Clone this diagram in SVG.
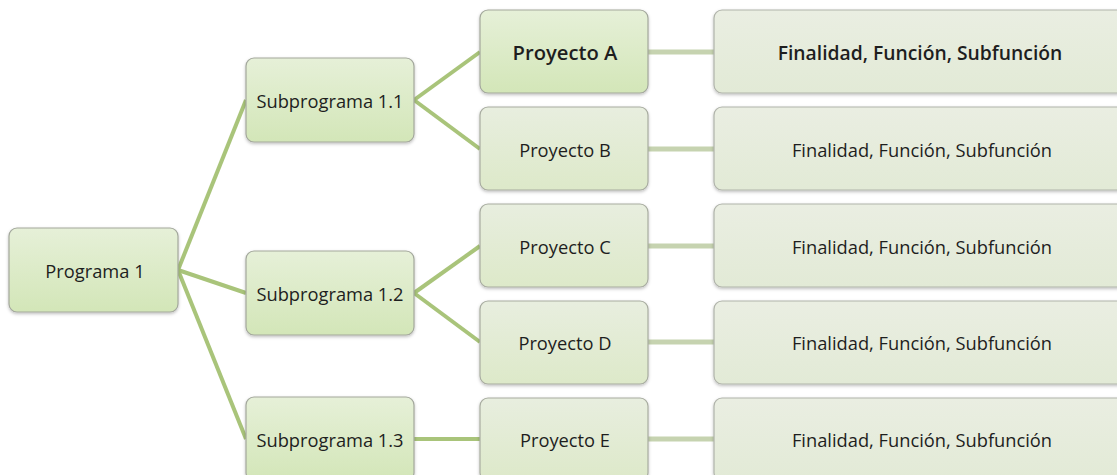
<svg xmlns="http://www.w3.org/2000/svg" width="1117" height="475" viewBox="0 0 1117 475">
<style>
.n1{fill:url(#g1);stroke:#a3a79c;stroke-width:1.2;filter:url(#sh)}
.n2{fill:url(#g2);stroke:#a8aca0;stroke-width:1.2;filter:url(#sh)}
.n3{fill:url(#g3);stroke:#b0b3aa;stroke-width:1.2;filter:url(#sh)}
.t{font-family:"Open Sans","Noto Sans",sans-serif;font-size:18.3px;fill:#1e1e1e;text-anchor:middle;dominant-baseline:central}
.tb{font-weight:600}
.c1{stroke:#a9c47a;stroke-width:4;fill:none}
.c2{stroke:#c6d3b0;stroke-width:5;fill:none}
</style>
<defs>
<linearGradient id="g1" x1="0" y1="0" x2="0" y2="1"><stop offset="0" stop-color="#e6f0d8"/><stop offset="1" stop-color="#d3e6b8"/></linearGradient>
<linearGradient id="g2" x1="0" y1="0" x2="0" y2="1"><stop offset="0" stop-color="#e8eedf"/><stop offset="1" stop-color="#dde9c9"/></linearGradient>
<linearGradient id="g3" x1="0" y1="0" x2="0" y2="1"><stop offset="0" stop-color="#eaeee2"/><stop offset="1" stop-color="#e2ead6"/></linearGradient>
<filter id="sh" x="-10%" y="-10%" width="120%" height="130%"><feDropShadow dx="0" dy="1.5" stdDeviation="1.5" flood-color="#000" flood-opacity="0.25"/></filter>
</defs>
<rect width="1117" height="475" fill="#ffffff"/>
<g id="connectors">
<line class="c1" x1="178" y1="270" x2="246" y2="100"/>
<line class="c1" x1="178" y1="270" x2="246" y2="293"/>
<line class="c1" x1="178" y1="270" x2="246" y2="439"/>
<line class="c1" x1="414" y1="100" x2="480" y2="52"/>
<line class="c1" x1="414" y1="100" x2="480" y2="149"/>
<line class="c1" x1="414" y1="293" x2="480" y2="246"/>
<line class="c1" x1="414" y1="293" x2="480" y2="342"/>
<line class="c1" x1="414" y1="439" x2="480" y2="439"/>
<line class="c2" x1="648" y1="52" x2="714" y2="52"/>
<line class="c2" x1="648" y1="149" x2="714" y2="149"/>
<line class="c2" x1="648" y1="246" x2="714" y2="246"/>
<line class="c2" x1="648" y1="342" x2="714" y2="342"/>
<line class="c2" x1="648" y1="439" x2="714" y2="439"/>
</g>
<g id="programa1"><rect class="n1" x="9" y="228" width="169" height="84" rx="8"/><text class="t" x="95" y="270">Programa 1</text></g>
<g id="subprograma11"><rect class="n1" x="246" y="58" width="168" height="84" rx="8"/><text class="t" x="330" y="100">Subprograma 1.1</text></g>
<g id="subprograma12"><rect class="n1" x="246" y="251" width="168" height="84" rx="8"/><text class="t" x="330" y="293">Subprograma 1.2</text></g>
<g id="subprograma13"><rect class="n1" x="246" y="397" width="168" height="84" rx="8"/><text class="t" x="330" y="439">Subprograma 1.3</text></g>
<g id="proyectoA"><rect class="n1" x="480" y="10" width="168" height="83" rx="8"/><text class="t tb" x="565" y="52" style="font-size:20.2px">Proyecto A</text></g>
<g id="proyectoB"><rect class="n2" x="480" y="107" width="168" height="83" rx="8"/><text class="t" x="565" y="149">Proyecto B</text></g>
<g id="proyectoC"><rect class="n2" x="480" y="204" width="168" height="83" rx="8"/><text class="t" x="565" y="246">Proyecto C</text></g>
<g id="proyectoD"><rect class="n2" x="480" y="301" width="168" height="83" rx="8"/><text class="t" x="565" y="342">Proyecto D</text></g>
<g id="proyectoE"><rect class="n2" x="480" y="398" width="168" height="83" rx="8"/><text class="t" x="565" y="439">Proyecto E</text></g>
<g id="finalA"><rect class="n3" x="714" y="10" width="412" height="83" rx="8"/><text class="t tb" x="920" y="52" style="font-size:19.3px">Finalidad, Función, Subfunción</text></g>
<g id="finalB"><rect class="n3" x="714" y="107" width="412" height="83" rx="8"/><text class="t" x="922" y="149">Finalidad, Función, Subfunción</text></g>
<g id="finalC"><rect class="n3" x="714" y="204" width="412" height="83" rx="8"/><text class="t" x="922" y="246">Finalidad, Función, Subfunción</text></g>
<g id="finalD"><rect class="n3" x="714" y="301" width="412" height="83" rx="8"/><text class="t" x="922" y="342">Finalidad, Función, Subfunción</text></g>
<g id="finalE"><rect class="n3" x="714" y="398" width="412" height="83" rx="8"/><text class="t" x="922" y="439">Finalidad, Función, Subfunción</text></g>
</svg>
